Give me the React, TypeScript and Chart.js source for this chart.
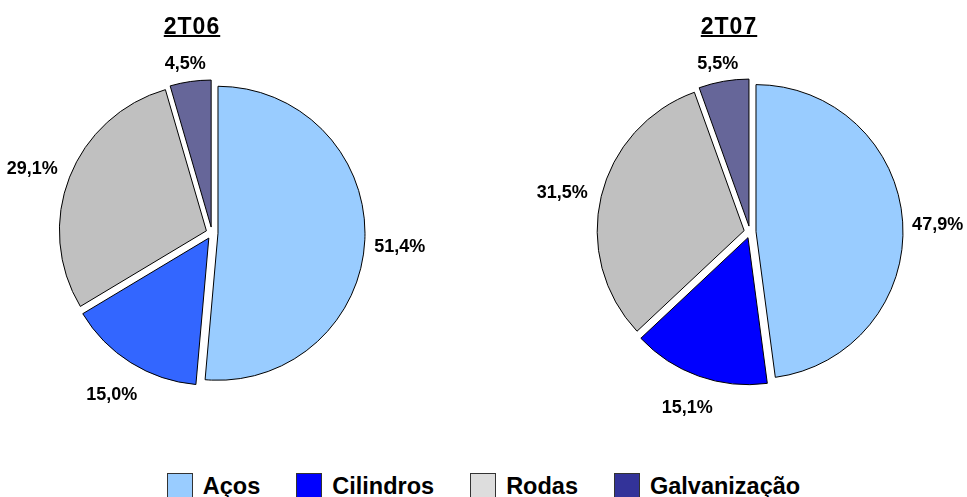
import React, { useEffect, useRef } from 'react';
import { Chart, registerables } from 'chart.js';

Chart.register(...registerables);

const categories = ['Aços', 'Cilindros', 'Rodas', 'Galvanização'];
const values2T06 = [51.4, 15.0, 29.1, 4.5];
const values2T07 = [47.9, 15.1, 31.5, 5.5];
const colors2T06 = ['#99CCFF', '#3366FF', '#C0C0C0', '#666699'];
const colors2T07 = ['#99CCFF', '#0000FF', '#C0C0C0', '#666699'];
const legendColors = ['#99CCFF', '#0000FF', '#DDDDDD', '#333399'];
const titles = ['2T06', '2T07'];

const FONT = "'Liberation Sans', Arial, Helvetica, sans-serif";

const fmt = (v: number) => v.toFixed(1).replace('.', ',') + '%';

const explodePlugin = {
  id: 'explode',
  afterDatasetUpdate(chart: any, args: any, opts: any) {
    const d = opts.distance || 0;
    args.meta.data.forEach((arc: any) => {
      const mid = (arc.startAngle + arc.endAngle) / 2;
      arc.x += Math.cos(mid) * d;
      arc.y += Math.sin(mid) * d;
    });
  },
};

const labelPlugin = {
  id: 'sliceLabels',
  afterDatasetsDraw(chart: any, _args: any, opts: any) {
    const ctx = chart.ctx;
    const meta = chart.getDatasetMeta(0);
    const data = chart.data.datasets[0].data;
    ctx.save();
    ctx.font = `bold 18px ${FONT}`;
    ctx.fillStyle = '#000';
    ctx.textAlign = 'center';
    ctx.textBaseline = 'alphabetic';
    meta.data.forEach((arc: any, i: number) => {
      const { x, y, startAngle, endAngle, outerRadius } = arc;
      const mid = (startAngle + endAngle) / 2;
      const text = fmt(data[i]);
      const hw = ctx.measureText(text).width / 2;
      const hh = 9;
      const c = Math.cos(mid);
      const s = Math.sin(mid);
      const dist = outerRadius + opts.pad + hw * Math.abs(c) + hh * Math.abs(s);
      ctx.fillText(text, x + c * dist + opts.dx, y + s * dist + 6.5 + opts.dy);
    });
    ctx.restore();
  },
};

function PieChart({ values, colors, left, top }: { values: number[]; colors: string[]; left: number; top: number }) {
  const ref = useRef<HTMLCanvasElement>(null);
  useEffect(() => {
    const chart = new Chart(ref.current as HTMLCanvasElement, {
      type: 'pie',
      data: {
        labels: categories,
        datasets: [
          {
            data: values,
            backgroundColor: colors,
            borderColor: '#000000',
            borderWidth: 1,
            radius: 147,
          } as any,
        ],
      },
      options: {
        responsive: false,
        animation: false,
        events: [],
        layout: { padding: 0 },
        plugins: {
          legend: { display: false },
          tooltip: { enabled: false },
          explode: { distance: 6 },
          sliceLabels: { pad: 11, dx: -2, dy: 4 },
        } as any,
      },
      plugins: [explodePlugin, labelPlugin],
    });
    return () => chart.destroy();
  }, []);
  return (
    <canvas
      ref={ref}
      width={480}
      height={400}
      style={{ position: 'absolute', left, top, width: 480, height: 400 }}
    />
  );
}

const titleStyle: React.CSSProperties = {
  position: 'absolute',
  top: 15,
  width: 200,
  textAlign: 'center',
  fontFamily: FONT,
  fontWeight: 'bold',
  fontSize: 23,
  lineHeight: 1,
  letterSpacing: 1,
  textDecoration: 'underline',
  textDecorationThickness: 2,
  color: '#000',
};

export default function App() {
  return (
    <div
      style={{
        position: 'absolute',
        left: 0,
        top: 0,
        width: 967,
        height: 497,
        overflow: 'hidden',
        background: '#fff',
      }}
    >
      <PieChart values={values2T06} colors={colors2T06} left={-28} top={33} />
      <PieChart values={values2T07} colors={colors2T07} left={510} top={32} />
      <div style={{ ...titleStyle, left: 92 }}>{titles[0]}</div>
      <div style={{ ...titleStyle, left: 629 }}>{titles[1]}</div>
      <div
        style={{
          position: 'absolute',
          left: 0,
          top: 473,
          width: 967,
          display: 'flex',
          justifyContent: 'center',
          columnGap: 36,
          fontFamily: FONT,
          fontWeight: 'bold',
          fontSize: 23.5,
          lineHeight: '25px',
          color: '#000',
        }}
      >
        {categories.map((c, i) => (
          <div key={c} style={{ display: 'flex', alignItems: 'flex-start' }}>
            <div
              style={{
                width: 24,
                height: 24,
                background: legendColors[i],
                border: '1px solid #333',
                marginRight: 10,
              }}
            />
            <span style={{ paddingTop: 1 }}>{c}</span>
          </div>
        ))}
      </div>
    </div>
  );
}
